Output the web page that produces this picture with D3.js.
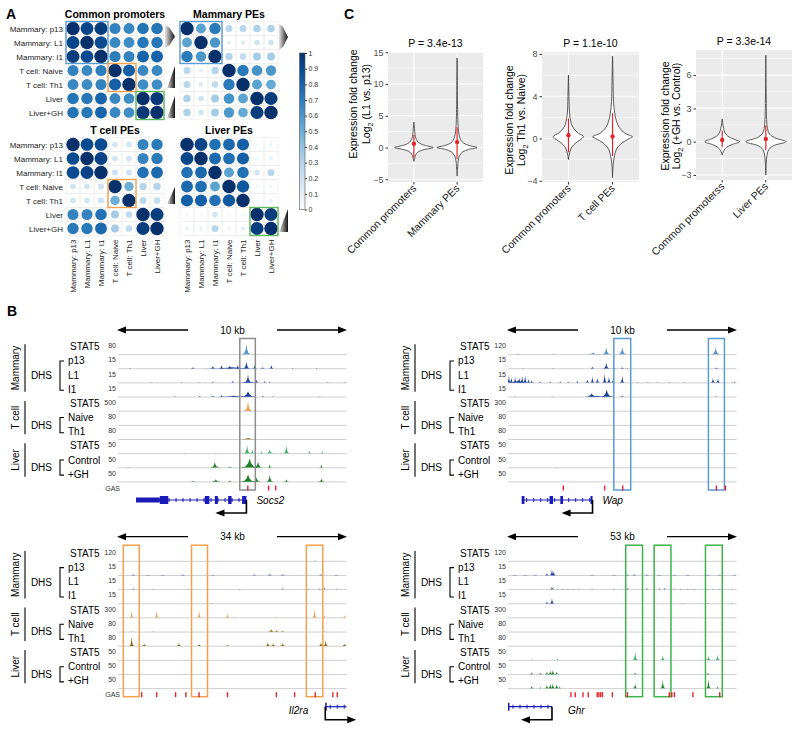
<!DOCTYPE html>
<html><head><meta charset="utf-8">
<script src="https://cdn.jsdelivr.net/npm/d3@7/dist/d3.min.js"></script>
<style>html,body{margin:0;padding:0;background:#fff}svg{display:block;font-family:"Liberation Sans",Arial,Helvetica,sans-serif}</style>
</head><body><svg id="fig" width="800" height="733"></svg>
<script>
// ================= DATA =================
// ---- Panel A: correlation matrices ----
const corrLabels = ["Mammary: p13","Mammary: L1","Mammary: I1","T cell: Naive","T cell: Th1","Liver","Liver+GH"];
const corrCommon = [
 [1.00,0.92,0.95,0.68,0.66,0.74,0.74],
 [0.92,1.00,0.90,0.66,0.65,0.73,0.73],
 [0.95,0.90,1.00,0.70,0.68,0.80,0.80],
 [0.68,0.66,0.70,1.00,0.82,0.66,0.66],
 [0.66,0.65,0.68,0.82,1.00,0.64,0.64],
 [0.74,0.73,0.80,0.66,0.64,1.00,0.97],
 [0.74,0.73,0.80,0.66,0.64,0.97,1.00]];
const corrMammaryPE = [
 [1.00,0.55,0.72,0.28,0.28,0.32,0.32],
 [0.55,1.00,0.60,0.10,0.12,0.18,0.18],
 [0.72,0.60,1.00,0.30,0.25,0.35,0.35],
 [0.28,0.10,0.30,1.00,0.72,0.62,0.60],
 [0.28,0.12,0.25,0.72,1.00,0.55,0.52],
 [0.32,0.18,0.35,0.62,0.55,1.00,0.95],
 [0.32,0.18,0.35,0.60,0.52,0.95,1.00]];
const corrTcellPE = [
 [1.00,0.90,0.90,0.18,0.18,0.68,0.72],
 [0.90,1.00,0.93,0.18,0.18,0.68,0.72],
 [0.90,0.93,1.00,0.20,0.20,0.75,0.78],
 [0.18,0.18,0.20,1.00,0.50,0.30,0.30],
 [0.18,0.18,0.20,0.50,1.00,0.28,0.25],
 [0.68,0.68,0.75,0.35,0.25,1.00,0.95],
 [0.72,0.72,0.78,0.35,0.25,0.95,1.00]];
const corrLiverPE = [
 [1.00,0.92,0.75,0.78,0.82,0.05,0.08],
 [0.92,1.00,0.78,0.76,0.82,0.05,0.08],
 [0.75,0.78,1.00,0.55,0.75,0.18,0.28],
 [0.78,0.76,0.55,1.00,0.85,0.04,0.06],
 [0.82,0.82,0.75,0.85,1.00,0.05,0.10],
 [0.05,0.05,0.18,0.04,0.05,1.00,0.95],
 [0.08,0.08,0.28,0.06,0.10,0.95,1.00]];
const colorbarTicks = [0,0.1,0.2,0.3,0.4,0.5,0.6,0.7,0.8,0.9,1];

// ---- Panel C: violin data ([value, relative density]) ----
const catsC1 = ["Common promoters","Mammary PEs"];
const catsC2 = ["Common promoters","T cell PEs"];
const catsC3 = ["Common promoterss","Liver PEs"];
const titlesC = ["P = 3.4e-13","P = 1.1e-10","P = 3.3e-14"];
const yLabelsC = ["(L1 vs. p13)"," Th1 vs. Naive)","(+GH vs. Control)"];
const yTicksC1 = [-5,0,5,10,15];
const yTicksC2 = [-4,0,4,8];
const yTicksC3 = [-3,0,3,6];
const vioCP1 = [[-2.2,0],[-1.8,0.03],[-1.4,0.06],[-1,0.12],[-0.6,0.26],[-0.3,0.55],[0,0.97],[0.3,0.58],[0.6,0.32],[1,0.17],[1.5,0.09],[2,0.06],[2.5,0.04],[3,0.03],[3.5,0.02],[4,0]];
const vioMPE1 = [[-4.5,0],[-3.5,0.02],[-2.5,0.04],[-1.8,0.07],[-1.2,0.14],[-0.7,0.28],[-0.3,0.58],[0,1],[0.3,0.62],[0.7,0.32],[1.2,0.18],[2,0.1],[3,0.06],[4,0.04],[6,0.025],[9,0.015],[12,0.01],[14.1,0]];
const vioCP2 = [[-2,0],[-1.6,0.03],[-1.2,0.08],[-0.8,0.17],[-0.4,0.38],[0,0.68],[0.2,0.75],[0.5,0.5],[0.9,0.28],[1.3,0.16],[1.9,0.09],[2.5,0.05],[3.5,0.03],[4.5,0.02],[6,0]];
const vioTPE2 = [[-3.7,0],[-2.5,0.03],[-1.6,0.1],[-1,0.2],[-0.5,0.42],[0,0.85],[0.15,1],[0.5,0.62],[1,0.35],[1.6,0.2],[2.4,0.11],[3.5,0.05],[5,0.03],[6.5,0.015],[7.8,0]];
const vioCP3 = [[-1.2,0],[-0.8,0.08],[-0.5,0.22],[-0.25,0.5],[0,0.87],[0.25,0.55],[0.5,0.28],[0.8,0.14],[1.2,0.07],[1.6,0.03],[2.05,0]];
const vioLPE3 = [[-3,0],[-2,0.02],[-1.2,0.06],[-0.7,0.15],[-0.35,0.4],[0,1],[0.35,0.45],[0.7,0.18],[1.2,0.08],[2,0.04],[3,0.025],[5,0.012],[7.8,0]];
// [low, high, centre] of the red summary
const statCP1 = [-1.6,2.0,0.6], statMPE1 = [-1.8,3.2,0.85];
const statCP2 = [-1.3,1.9,0.3], statTPE2 = [-1.65,2.4,0.2];
const statCP3 = [-0.5,1.0,0.15], statLPE3 = [-0.75,1.45,0.25];

// ---- Panel B: genome browser tracks ----
const trackNames = ["STAT5","p13","L1","I1","STAT5","Naive","Th1","STAT5","Control","+GH"];
const scalesSocs2 = [80,15,15,15,500,80,80,50,50,50];
const scalesOther = [120,15,15,15,300,80,80,50,50,50];
// peaks: [position kb, relative height, half-width kb (optional)]
const peaksSocs2 = [
 [[5.62,0.85,0.2]],
 [[0.52,0.04],[3.28,0.1],[5.0,0.1,1.3],[4.15,0.2,0.15],[4.53,0.3],[4.89,0.25,0.15],[5.24,0.3],[5.62,0.6,0.15],[5.98,0.3],[6.33,0.1],[6.71,0.3],[7.64,0.05],[8.69,0.05]],
 [[1.48,0.05],[2.78,0.05],[3.58,0.05],[5.7,0.08,1.1],[4.15,0.1],[5.02,0.15],[5.69,0.7,0.18],[6.06,0.25],[6.42,0.15],[6.64,0.1],[9.17,0.05],[9.95,0.05]],
 [[2.49,0.05],[3.58,0.08],[5.1,0.08,1.3],[4.15,0.1],[4.53,0.15],[5.02,0.1],[5.69,0.45,0.35],[6.33,0.08],[6.77,0.05],[8.82,0.03]],
 [[5.69,0.85,0.2]],
 [],
 [[5.69,0.1,0.4]],
 [[0.16,0.03],[2.93,0.06],[4.28,0.06],[5.65,0.7,0.15],[5.88,0.3],[6.28,0.15],[6.64,0.35,0.15],[7.37,0.65,0.15],[8.38,0.2],[8.94,0.15]],
 [[0.45,0.03],[4.24,0.45,0.2],[4.89,0.1],[5.76,0.75,0.4],[6.13,0.5,0.2],[6.64,0.25],[8.9,0.2]],
 [[3.29,0.05],[4.28,0.2,0.2],[4.89,0.1],[5.69,0.6,0.35],[6.06,0.35,0.2],[6.64,0.6,0.15],[7.37,0.2],[8.9,0.25,0.15]]];
const peaksWap = [
 [[0.45,0.05,0.3],[1.98,0.03],[3.73,0.15,0.3],[4.3,0.55,0.2],[5.0,0.6,0.2],[9.09,0.6,0.2]],
 [[0.66,0.03],[1.98,0.03],[3.69,0.15],[4.3,0.5,0.15],[4.64,0.08],[5.0,0.1],[5.23,0.05],[9.12,0.08]],
 [[0.45,0.2,0.5],[0.04,0.6],[0.15,0.45],[0.31,0.45],[0.5,0.4],[0.62,0.55],[0.75,0.6],[0.9,0.3],[1.04,0.2],[1.41,0.1],[1.85,0.1],[2.29,0.1],[2.64,0.08],[3.03,0.15],[3.47,0.25],[3.69,0.5],[3.91,0.4],[4.23,0.75],[4.42,0.5],[4.6,0.3],[5.0,0.6],[5.67,0.05],[6.11,0.05],[6.55,0.05],[7.06,0.05],[7.72,0.05],[8.97,0.4],[9.19,0.35],[9.91,0.1]],
 [[0.31,0.03],[1.94,0.03],[3.9,0.08,0.8],[3.66,0.3,0.3],[4.32,0.6,0.3],[5.0,0.1],[9.12,0.05]],
 [],[],[],[],
 [[2.14,0.03]],
 []];
const peaksIl2ra = [
 [[29.35,0.05]],
 [[2.27,0.05],[4.45,0.03],[6.68,0.03],[9.65,0.05],[14.1,0.03],[20.3,0.05],[22.6,0.1],[24.5,0.07],[30.2,0.05],[32.5,0.03]],
 [[2.27,0.08],[5.2,0.03],[10.4,0.05],[18.1,0.03],[24.5,0.08],[28.3,0.05],[30.0,0.06],[30.7,0.1],[32.5,0.05]],
 [[13.9,0.03]],
 [[2.03,0.6],[5.75,0.6],[12.07,0.6],[16.29,0.35],[17.4,0.1],[23.6,0.1],[29.25,0.75],[30.7,0.2],[33.7,0.2]],
 [[2.03,0.05],[5.2,0.03],[22.8,0.2,0.6],[23.6,0.15],[24.5,0.1],[30.7,0.05]],
 [[2.03,0.8],[3.9,0.2],[9.06,0.25],[12.07,0.15],[16.29,0.05],[22.3,0.3],[23.1,0.2],[24.5,0.25],[30.2,0.3],[30.9,0.5],[33.7,0.2]],
 [],[],[]];
const peaksGhr = [
 [],
 [[1.6,0.04],[4.0,0.04],[6.3,0.04],[9.03,0.15],[10.2,0.5],[10.58,0.3],[19.5,0.04],[24.6,0.04],[27.7,0.05],[29.3,0.05],[32.2,0.05],[35.1,0.04],[38.6,0.04],[41.7,0.04],[46.4,0.04],[49.1,0.04],[52.6,0.04]],
 [[10.2,0.2],[11.5,0.05],[12.7,0.05],[13.9,0.05],[15.2,0.05],[16.5,0.05],[19.5,0.04],[24.6,0.04],[27.7,0.1],[32.2,0.1],[35.1,0.08],[36.3,0.1],[38.6,0.05],[40.1,0.05],[41.7,0.05],[43.2,0.05],[46.4,0.05],[47.6,0.05],[49.1,0.05],[52.0,0.05]],
 [[9.03,0.15],[10.2,0.45,0.6],[40.5,0.02],[46.4,0.02],[52,0.02]],
 [],[],[],
 [[5.5,0.05],[11.5,0.1],[29.5,0.75],[35.9,0.4],[46.5,0.35],[48.6,0.45]],
 [[5.5,0.15],[7.5,0.1],[9.03,0.2],[9.8,0.3],[10.4,0.35],[11.3,0.2],[29.5,0.1],[46.4,0.1]],
 [[5.5,0.2],[7.5,0.1],[9.03,0.3],[9.8,0.4],[10.4,0.45],[11.3,0.35],[12.0,0.15],[29.5,0.4],[35.9,0.75],[46.5,0.8],[48.6,0.15]]];
const gasSocs2 = [5.68,6.59,6.9];
const gasWap = [2.42,4.23,5.02,9.12,9.52];
const gasIl2ra = [3.52,5.75,8.57,10.1,12.07,16.29,23.56,26.28,29.35,31.97,32.62];
const gasGhr = [14.6,15.6,17.4,18.6,20.7,21.1,21.5,21.9,24.2,27.7,37.4,38.0,38.6,42.9,49.1];
const boxesSocs2 = [[5.33,6.01]];
const boxesWap = [[4.63,5.37],[8.77,9.47]];
const boxesIl2ra = [[0.79,3.16],[10.94,13.32],[28.02,30.48]];
const boxesGhr = [[27.3,31.2],[33.9,37.8],[45.8,49.7]];
// exons: [start kb, end kb, type]
const exonsSocs2 = [[0.79,1.83,"utr"],[1.83,2.2,"cds"],[3.8,4.0,"cds"],[4.24,4.37,"cds"],[4.82,4.97,"cds"],[5.43,5.62,"cds"]];
const exonsWap = [[0.6,0.72,"cds"],[1.82,1.97,"cds"],[2.29,2.41,"cds"],[3.61,3.7,"cds"]];
const exonsIl2ra = [[30.84,31.0,"cds"]];
const exonsGhr = [[0,0.15,"cds"]];

// ================= DRAWING =================
const svg = d3.select("#fig");
const defs = svg.append("defs");
const blues = d3.scaleSequential(d3.interpolateBlues).domain([0,1]);

svg.append("text").attr("x",6).attr("y",19).attr("font-size",14).attr("font-weight","bold").text("A");
svg.append("text").attr("x",7).attr("y",316).attr("font-size",14).attr("font-weight","bold").text("B");
svg.append("text").attr("x",344).attr("y",19).attr("font-size",14).attr("font-weight","bold").text("C");

// ---------- Panel A ----------
const cell = 14;
const boxCols = {blue:"#5b9bd5", orange:"#f4a14f", green:"#5cb85c"};
function corrMatrix(M, x0, y0, title, showRows, showCols, boxes){
  const g = svg.append("g");
  const xs = d3.scaleBand().domain(d3.range(7)).range([x0, x0+7*cell]);
  const ys = d3.scaleBand().domain(d3.range(7)).range([y0, y0+7*cell]);
  const cells = [];
  M.forEach((row,i)=>row.forEach((v,j)=>cells.push({i,j,v})));
  g.selectAll("rect.c").data(cells).join("rect")
    .attr("x",d=>xs(d.j)).attr("y",d=>ys(d.i)).attr("width",cell).attr("height",cell)
    .attr("fill","none").attr("stroke","#ececec").attr("stroke-width",0.6);
  g.selectAll("circle").data(cells).join("circle")
    .attr("cx",d=>xs(d.j)+cell/2).attr("cy",d=>ys(d.i)+cell/2)
    .attr("r",d=>6.7*Math.sqrt(Math.abs(d.v)))
    .attr("fill",d=>blues(d.v));
  g.append("text").attr("x",x0+3.5*cell).attr("y",y0-3.5).attr("text-anchor","middle")
    .attr("font-size",10.5).attr("font-weight","bold").text(title);
  if(showRows){
    g.selectAll("text.r").data(corrLabels).join("text")
      .attr("x",x0-3).attr("y",(d,i)=>ys(i)+cell/2+3).attr("text-anchor","end")
      .attr("font-size",8).attr("fill","#222").text(d=>d);
  }
  if(showCols){
    g.selectAll("text.cl").data(corrLabels).join("text")
      .attr("transform",(d,i)=>`translate(${xs(i)+cell/2+3},${y0+7*cell+4}) rotate(-90)`)
      .attr("text-anchor","end").attr("font-size",8).attr("fill","#222").text(d=>d);
  }
  boxes.forEach(b=>{
    g.append("rect").attr("x",xs(b[0])).attr("y",ys(b[0])).attr("width",cell*b[1]).attr("height",cell*b[1])
      .attr("fill","none").attr("stroke",boxCols[b[2]]).attr("stroke-width",1.4);
  });
}
corrMatrix(corrCommon, 66, 21.5, "Common promoters", true, false, [[0,3,"blue"],[3,2,"orange"],[5,2,"green"]]);
corrMatrix(corrMammaryPE, 180, 21.5, "Mammary PEs", false, false, [[0,3,"blue"]]);
corrMatrix(corrTcellPE, 66, 137.5, "T cell PEs", true, true, [[3,2,"orange"]]);
corrMatrix(corrLiverPE, 180, 137.5, "Liver PEs", false, true, [[5,2,"green"]]);

// gradient wedges
const wg = defs.append("linearGradient").attr("id","wedge").attr("x1","0").attr("x2","1").attr("y1","0").attr("y2","0");
wg.append("stop").attr("offset","0").attr("stop-color","#e6e6e6");
wg.append("stop").attr("offset","1").attr("stop-color","#111");
function arrowWedge(x0,y0,x1,y1){
  const w=x1-x0,h=y1-y0;
  svg.append("path").attr("d",`M${x0},${y0}L${x0+0.45*w},${y0+0.12*h}L${x1},${y0+h/2}L${x0+0.45*w},${y1-0.12*h}L${x0},${y1}Z`).attr("fill","url(#wedge)");
}
function cornerWedge(x0,y0,x1,y1){
  svg.append("path").attr("d",`M${x1},${y0}L${x1},${y1}L${x0},${y1}Z`).attr("fill","url(#wedge)");
}
arrowWedge(165,25,175,48);
cornerWedge(167,66,175,88);
cornerWedge(167,96,175,118);
arrowWedge(279,24,288,50);
cornerWedge(167,187,175,204);
cornerWedge(279,209,288,232);

// colorbar
const cbg = defs.append("linearGradient").attr("id","cbar").attr("x1","0").attr("x2","0").attr("y1","1").attr("y2","0");
d3.range(0,1.01,0.1).forEach(t=>cbg.append("stop").attr("offset",t).attr("stop-color",blues(t)));
const cbY = d3.scaleLinear().domain([0,1]).range([209.5,53]);
svg.append("rect").attr("x",299.5).attr("y",53).attr("width",5.5).attr("height",156.5).attr("fill","url(#cbar)").attr("stroke","#555").attr("stroke-width",0.6);
const cbAxis = svg.append("g").attr("transform","translate(305,0)").call(d3.axisRight(cbY).tickValues(colorbarTicks).tickSize(2).tickPadding(1.5).tickFormat(d3.format("")));
cbAxis.select(".domain").remove();
cbAxis.selectAll("text").attr("font-size",7).attr("fill","#333").attr("font-family","Liberation Sans, Arial, sans-serif");
cbAxis.selectAll("line").attr("stroke","#333");

// ---------- Panel C ----------
const plotsC = [
 {cats:catsC1, dens:[vioCP1,vioMPE1], stats:[statCP1,statMPE1], ticks:yTicksC1, minor:[-2.5,2.5,7.5,12.5], dom:[-5.43,15.03], left:388, right:483, top:52, bottom:182, t1:357, t2:369.5, cy:104},
 {cats:catsC2, dens:[vioCP2,vioTPE2], stats:[statCP2,statTPE2], ticks:yTicksC2, minor:[-2,2,6], dom:[-4.12,8.19], left:542, right:639, top:52, bottom:182, t1:513, t2:525, cy:120},
 {cats:catsC3, dens:[vioCP3,vioLPE3], stats:[statCP3,statLPE3], ticks:yTicksC3, minor:[-1.5,1.5,4.5,7.5], dom:[-3.45,8.26], left:696, right:792, top:50, bottom:180, t1:668.5, t2:680, cy:116}
];
plotsC.forEach((P,k)=>{
  const g = svg.append("g");
  const x = d3.scalePoint().domain(P.cats).range([P.left,P.right]).padding(0.6);
  const y = d3.scaleLinear().domain(P.dom).range([P.bottom,P.top]);
  g.append("rect").attr("x",P.left).attr("y",P.top).attr("width",P.right-P.left).attr("height",P.bottom-P.top).attr("fill","#ebebeb");
  g.selectAll("line.mi").data(P.minor).join("line").attr("x1",P.left).attr("x2",P.right).attr("y1",d=>y(d)).attr("y2",d=>y(d)).attr("stroke","#fff").attr("stroke-width",0.6);
  g.selectAll("line.ma").data(P.ticks).join("line").attr("x1",P.left).attr("x2",P.right).attr("y1",d=>y(d)).attr("y2",d=>y(d)).attr("stroke","#fff").attr("stroke-width",1.1);
  g.selectAll("line.v").data(P.cats).join("line").attr("x1",d=>x(d)).attr("x2",d=>x(d)).attr("y1",P.top).attr("y2",P.bottom).attr("stroke","#fff").attr("stroke-width",1.1);
  P.cats.forEach((c,i)=>{
    const cx = x(c), hw = 20;
    const area = d3.area().curve(d3.curveCatmullRom).y(d=>y(d[0])).x0(d=>cx-d[1]*hw).x1(d=>cx+d[1]*hw);
    g.append("path").attr("d",area(P.dens[i])).attr("fill","#fff").attr("stroke","#333").attr("stroke-width",0.8);
    const s = P.stats[i];
    g.append("line").attr("x1",cx).attr("x2",cx).attr("y1",y(s[0])).attr("y2",y(s[1])).attr("stroke","#e3242b").attr("stroke-width",1.2);
    g.append("circle").attr("cx",cx).attr("cy",y(s[2])).attr("r",2.2).attr("fill","#e3242b");
  });
  const ax = g.append("g").attr("transform",`translate(${P.left},0)`).call(d3.axisLeft(y).tickValues(P.ticks).tickSize(2.5).tickPadding(2));
  ax.select(".domain").remove();
  ax.selectAll("text").attr("font-size",9).attr("fill","#4d4d4d").attr("font-family","Liberation Sans, Arial, sans-serif");
  ax.selectAll("line").attr("stroke","#333");
  g.selectAll("line.xt").data(P.cats).join("line").attr("x1",d=>x(d)).attr("x2",d=>x(d)).attr("y1",P.bottom).attr("y2",P.bottom+2.5).attr("stroke","#333");
  g.selectAll("text.xl").data(P.cats).join("text")
    .attr("transform",d=>`translate(${x(d)+3},${P.bottom+7}) rotate(-45)`)
    .attr("text-anchor","end").attr("font-size",10.5).attr("fill","#1a1a1a").text(d=>d);
  g.append("text").attr("x",(P.left+P.right)/2).attr("y",P.top-5).attr("text-anchor","middle").attr("font-size",10.5).text(titlesC[k]);
  g.append("text").attr("transform",`translate(${P.t1},${P.cy}) rotate(-90)`).attr("text-anchor","middle").attr("font-size",10.5).text("Expression fold change");
  const t2 = g.append("text").attr("transform",`translate(${P.t2},${P.cy}) rotate(-90)`).attr("text-anchor","middle").attr("font-size",10.5);
  t2.append("tspan").text("Log");
  t2.append("tspan").attr("font-size",7.5).attr("dy",3).text("2");
  t2.append("tspan").attr("dy",-3).text(" " + yLabelsC[k]);
});

// ---------- Panel B ----------
const trackColors = ["#5b93d3","#1c3f9c","#1c3f9c","#1c3f9c","#f0a45c","#8c6a14","#8c6a14","#3cae64","#1f7d24","#1f7d24"];
const groups = [{name:"Mammary",r:[0,3]},{name:"T cell",r:[4,6]},{name:"Liver",r:[7,9]}];
const dhsGroups = [[1,3],[5,6],[8,9]];
const loci = [
 {dx:0,dy:0,span:10,label:"10 kb",scales:scalesSocs2,peaks:peaksSocs2,gas:gasSocs2,gasLabel:true,boxes:boxesSocs2,boxColor:"#8c8c8c",exons:exonsSocs2,gene:[0.79,5.62],strand:-1,name:"Socs2",nameDx:10,nameAnchor:"start",nameDy:4},
 {dx:390,dy:0,span:10,label:"10 kb",scales:scalesOther,peaks:peaksWap,gas:gasWap,gasLabel:false,boxes:boxesWap,boxColor:"#5b9bd5",exons:exonsWap,gene:[0.6,3.7],strand:-1,name:"Wap",nameDx:10,nameAnchor:"start",nameDy:4},
 {dx:0,dy:206.7,span:34,label:"34 kb",scales:scalesOther,peaks:peaksIl2ra,gas:gasIl2ra,gasLabel:true,boxes:boxesIl2ra,boxColor:"#f4a14f",exons:exonsIl2ra,gene:[30.84,34],strand:1,name:"Il2ra",nameDx:-17,nameAnchor:"end",nameDy:7},
 {dx:390,dy:206.7,span:53,label:"53 kb",scales:scalesOther,peaks:peaksGhr,gas:gasGhr,gasLabel:false,boxes:boxesGhr,boxColor:"#3cb44b",exons:exonsGhr,gene:[0,10.2],strand:-1,name:"Ghr",nameDx:16,nameAnchor:"start",nameDy:7}
];
loci.forEach(L=>{
  const g = svg.append("g").attr("transform",`translate(${L.dx},${L.dy})`);
  const x = d3.scaleLinear().domain([0,L.span]).range([118,346.5]).clamp(true);
  const base = i => 354.3 + 14.15*i;
  const th = 12;
  // scale arrows
  const ay = 330;
  g.append("line").attr("x1",124).attr("x2",188).attr("y1",ay).attr("y2",ay).attr("stroke","#000").attr("stroke-width",1.3);
  g.append("line").attr("x1",277).attr("x2",340).attr("y1",ay).attr("y2",ay).attr("stroke","#000").attr("stroke-width",1.3);
  g.append("path").attr("d",`M117,${ay}L126,${ay-3.5}L126,${ay+3.5}Z`);
  g.append("path").attr("d",`M347,${ay}L338,${ay-3.5}L338,${ay+3.5}Z`);
  g.append("text").attr("x",232.5).attr("y",ay+3.5).attr("text-anchor","middle").attr("font-size",10).text(L.label);
  // groups
  groups.forEach(G=>{
    const y0 = base(G.r[0])-10, y1 = base(G.r[1])-5;
    g.append("line").attr("x1",25).attr("x2",25).attr("y1",y0).attr("y2",y1).attr("stroke","#000").attr("stroke-width",1.1);
    g.append("text").attr("transform",`translate(19,${(y0+y1)/2}) rotate(-90)`).attr("text-anchor","middle").attr("font-size",10).text(G.name);
  });
  dhsGroups.forEach(r=>{
    const y0 = base(r[0])-7.5, y1 = base(r[1])-6.5;
    g.append("path").attr("d",`M64,${y0}H60V${y1}H64`).attr("fill","none").attr("stroke","#000").attr("stroke-width",1.1);
    g.append("text").attr("x",52).attr("y",(y0+y1)/2+3.6).attr("text-anchor","end").attr("font-size",10).text("DHS");
  });
  // track labels, scales, baselines, peaks
  trackNames.forEach((t,i)=>{
    g.append("text").attr("x",t==="STAT5"?70:68).attr("y",base(i)-4).attr("font-size",10).text(t);
    g.append("text").attr("x",116).attr("y",base(i)-6).attr("text-anchor","end").attr("font-size",7).attr("fill","#333").text(L.scales[i]);
    g.append("line").attr("x1",118).attr("x2",346.5).attr("y1",base(i)+0.3).attr("y2",base(i)+0.3).attr("stroke","#cfcfcf").attr("stroke-width",1);
    const defW = L.span*0.011;
    L.peaks[i].forEach(p=>{
      const pos=p[0], h=p[1], w=p.length>2?p[2]:defW;
      const pts = [[pos-w,0],[pos-w*0.45,0.12],[pos-w*0.15,0.5],[pos,1],[pos+w*0.15,0.5],[pos+w*0.45,0.12],[pos+w,0]];
      g.append("path").attr("d",d3.line().x(d=>x(d[0])).y(d=>base(i)-d[1]*h*th)(pts)).attr("fill",trackColors[i]);
    });
  });
  // highlight boxes
  L.boxes.forEach(b=>{
    g.append("rect").attr("x",x(b[0])).attr("y",338.5).attr("width",x(b[1])-x(b[0])).attr("height",151.5)
      .attr("fill","none").attr("stroke",L.boxColor).attr("stroke-width",1.5);
  });
  // GAS motifs
  if(L.gasLabel) g.append("text").attr("x",120).attr("y",490.5).attr("text-anchor","end").attr("font-size",7).attr("fill","#333").text("GAS");
  g.selectAll("line.gas").data(L.gas).join("line").attr("x1",d=>x(d)).attr("x2",d=>x(d)).attr("y1",485.5).attr("y2",490.5).attr("stroke","#e8232a").attr("stroke-width",1.4);
  // gene model
  const gy = 500, gc = "#1a1ab8";
  const xg = d3.scaleLinear().domain([0,L.span]).range([118,346.5]);
  g.append("line").attr("x1",xg(L.gene[0])).attr("x2",xg(L.gene[1])).attr("y1",gy).attr("y2",gy).attr("stroke",gc).attr("stroke-width",1.2);
  for(let px = xg(L.gene[0])+5; px < xg(L.gene[1])-2; px += 7){
    g.append("line").attr("x1",px).attr("x2",px).attr("y1",gy-2).attr("y2",gy+2).attr("stroke",gc).attr("stroke-width",1);
  }
  L.exons.forEach(e=>{
    const hh = e[2]==="utr"?5:8;
    g.append("rect").attr("x",xg(e[0])).attr("y",gy-hh/2).attr("width",Math.max(1.5,xg(e[1])-xg(e[0]))).attr("height",hh).attr("fill",gc);
  });
  const tss = L.strand>0 ? xg(L.gene[0]) : xg(L.gene[1]);
  const tip = tss + L.strand*31;
  g.append("path").attr("d",`M${tss},${gy}V${gy+13}H${tip-L.strand*7}`).attr("fill","none").attr("stroke","#000").attr("stroke-width",1.6);
  g.append("path").attr("d",`M${tip},${gy+13}L${tip-L.strand*9},${gy+9.5}L${tip-L.strand*9},${gy+16.5}Z`).attr("fill","#000");
  g.append("text").attr("x",(L.strand>0?xg(L.gene[0]):tss)+L.nameDx).attr("y",gy+L.nameDy).attr("text-anchor",L.nameAnchor)
    .attr("font-size",10).attr("font-style","italic").text(L.name);
});
</script></body></html>
